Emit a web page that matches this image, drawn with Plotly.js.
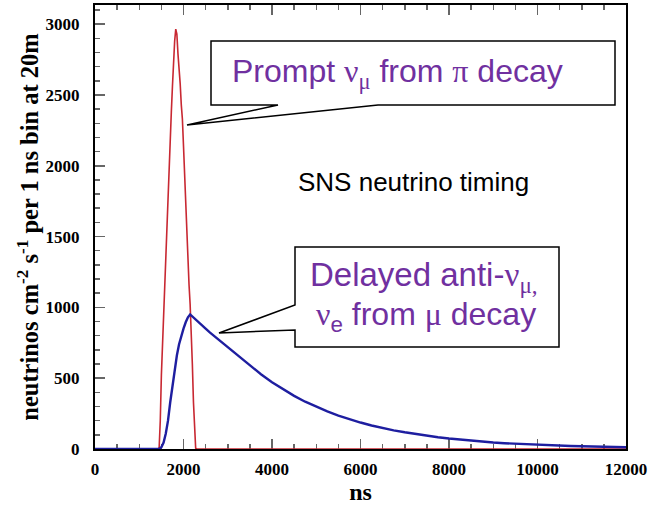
<!DOCTYPE html>
<html><head><meta charset="utf-8">
<script src="https://cdn.plot.ly/plotly-3.0.1.min.js"></script>
<style>html,body{margin:0;padding:0;background:#fff}#chart{width:656px;height:505px}</style>
</head><body><div id="chart"></div>
<script>
// Prompt nu_mu from pi decay (red)
const promptTime = [0,1400,1425,1450,1475,1500,1525,1550,1575,1600,1625,1650,1675,1700,1725,1750,1775,1800,1825,1850,1875,1900,1925,1950,1975,2000,2025,2050,2075,2100,2125,2150,2175,2200,2225,2250,2275,2300,12000];
const promptFlux = [0,0,0,10,200,520,740,960,1190,1410,1545,1760,1950,2150,2380,2560,2760,2880,2965,2930,2790,2700,2580,2430,2330,2140,1920,1700,1500,1330,1160,1020,860,600,330,90,5,0,0];
// Delayed anti-nu_mu, nu_e from mu decay (blue)
const delayedTime = [0,1450,1500,1550,1600,1650,1700,1750,1800,1850,1900,1950,2000,2050,2100,2150,2200,2300,2400,2500,2600,2700,2800,2900,3000,3250,3500,3750,4000,4250,4500,4750,5000,5250,5500,5750,6000,6250,6500,6750,7000,7250,7500,7750,8000,8250,8500,8750,9000,9250,9500,9750,10000,10250,10500,10750,11000,11250,11500,11750,12000];
const delayedFlux = [0,0,12,45,110,200,330,450,560,660,740,800,850,895,930,950,935,905,878,850,822,796,770,745,718,652,590,528,472,421,375,334,297,265,236,210,187,166,148,132,118,105,93,83,74,66,59,52,46,41,37,33,29,26,23,21,19,17,15,13,12];

const xTickVals = [0,2000,4000,6000,8000,10000,12000];
const yTickVals = [0,500,1000,1500,2000,2500,3000];

const xRange = [0, 12000], yRange = [0, 3135];
const L = 95, R = 626, T = 5, B = 449;
function X(px){ return xRange[0] + (px - L) / (R - L) * (xRange[1] - xRange[0]); }
function Y(py){ return yRange[0] + (B - py) / (B - T) * (yRange[1] - yRange[0]); }
function path(pts){ return 'M ' + pts.map(p => X(p[0]) + ',' + Y(p[1])).join(' L ') + ' Z'; }

const purple = 'rgb(112,48,160)';
const G = '<span style="font-family:\'Liberation Serif\',serif">';
const sans = 'Liberation Sans, Arial, sans-serif';

const traces = [
  {x: promptTime, y: promptFlux, type: 'scatter', mode: 'lines', line: {color: 'rgb(200,40,50)', width: 1.6}, hoverinfo: 'skip'},
  {x: delayedTime, y: delayedFlux, type: 'scatter', mode: 'lines', line: {color: 'rgb(30,30,160)', width: 2.4}, hoverinfo: 'skip'}
];

const tickFont = {family: 'Liberation Serif', size: 17, color: '#000'};

const layout = {
  width: 656, height: 505,
  font: {family: 'Liberation Serif', size: 17, color: '#000'},
  margin: {l: L, r: 656 - R, t: T, b: 505 - B},
  paper_bgcolor: '#fff', plot_bgcolor: '#fff',
  showlegend: false,
  xaxis: {
    range: xRange, tickmode: 'array', tickvals: xTickVals, ticktext: xTickVals.map(v => '<b>' + v + '</b>'),
    ticks: 'inside', ticklen: 10, tickwidth: 1.5, tickcolor: '#666',
    minor: {dtick: 500, ticks: 'inside', ticklen: 5, tickwidth: 1.5, tickcolor: '#666'},
    showline: true, linecolor: '#000', linewidth: 2, mirror: 'ticks',
    showgrid: false, zeroline: false, layer: 'below traces',
    tickfont: tickFont, ticklabelstandoff: 4,
    title: {text: '<b>ns</b>', font: {family: 'Liberation Serif', size: 24, color: '#000'}, standoff: 3}
  },
  yaxis: {
    range: yRange, tickmode: 'array', tickvals: yTickVals, ticktext: yTickVals.map(v => '<b>' + v + '</b>'),
    ticks: 'inside', ticklen: 10, tickwidth: 1.5, tickcolor: '#666',
    minor: {dtick: 100, ticks: 'inside', ticklen: 5, tickwidth: 1.5, tickcolor: '#666'},
    showline: true, linecolor: '#000', linewidth: 2, mirror: true,
    showgrid: false, zeroline: false, layer: 'below traces',
    tickfont: tickFont, ticklabelstandoff: 10,
    title: {text: '<b>neutrinos cm<sup>-2</sup> s<sup>-1</sup> per 1 ns bin at 20m</b>', font: {family: 'Liberation Serif', size: 24.5, color: '#000'}, standoff: 0}
  },
  shapes: [
    {type: 'path', xref: 'x', yref: 'y', path: path([[211,41],[615,41],[615,105],[378,105],[187,125],[278,105],[211,105]]),
     fillcolor: '#fff', line: {color: '#000', width: 1.5}, layer: 'above'},
    {type: 'path', xref: 'x', yref: 'y', path: path([[295,247],[559,247],[559,347],[295,347],[295,330],[219,333],[295,305]]),
     fillcolor: '#fff', line: {color: '#000', width: 1.5}, layer: 'above'}
  ],
  annotations: [
    {xref: 'x', yref: 'y', x: X(230), y: Y(73), xanchor: 'left', yanchor: 'middle', showarrow: false,
     text: 'Prompt ' + G + 'ν<sub>μ</sub></span> from ' + G + 'π</span> decay',
     font: {family: sans, size: 32, color: purple}},
    {xref: 'x', yref: 'y', x: X(424), y: Y(277), xanchor: 'center', yanchor: 'middle', showarrow: false,
     text: 'Delayed anti-' + G + 'ν<sub>μ,</sub></span>',
     font: {family: sans, size: 33, color: purple}},
    {xref: 'x', yref: 'y', x: X(426), y: Y(316), xanchor: 'center', yanchor: 'middle', showarrow: false,
     text: G + 'ν</span><sub>e</sub> from ' + G + 'μ</span> decay',
     font: {family: sans, size: 32, color: purple}},
    {xref: 'x', yref: 'y', x: X(413), y: Y(182), xanchor: 'center', yanchor: 'middle', showarrow: false,
     text: 'SNS neutrino timing',
     font: {family: sans, size: 26, color: '#000'}}
  ]
};

Plotly.newPlot('chart', traces, layout, {staticPlot: true, displayModeBar: false});
</script>
</body></html>
